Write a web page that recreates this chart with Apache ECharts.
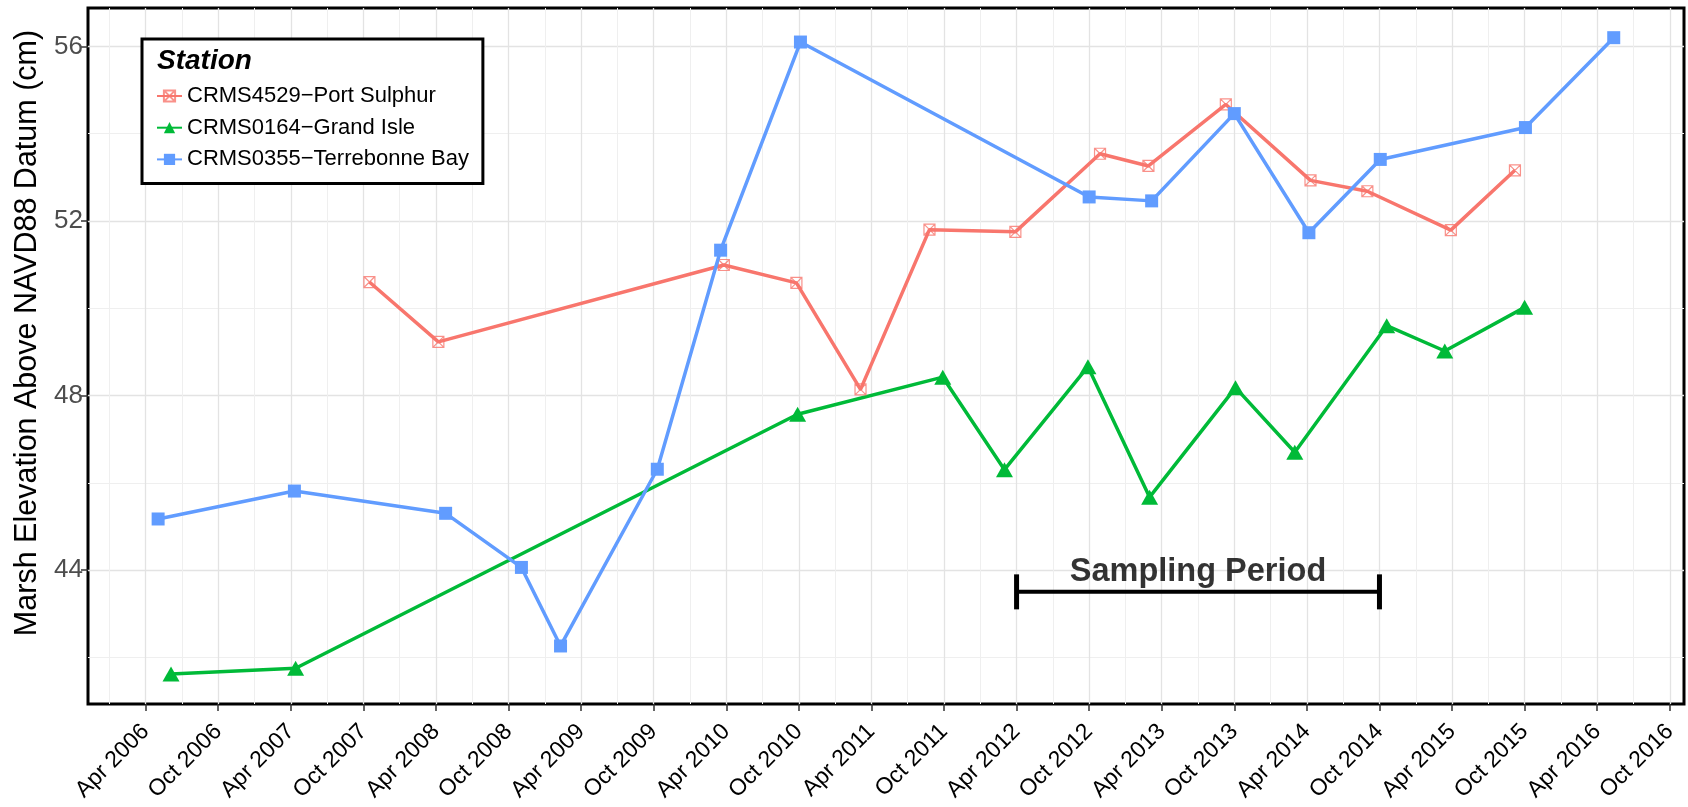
<!DOCTYPE html>
<html>
<head>
<meta charset="utf-8">
<script src="https://cdn.jsdelivr.net/npm/echarts@6/dist/echarts.min.js"></script>
<style>
  html, body { margin: 0; padding: 0; background: #fff; }
  #chart { width: 1688px; height: 807px; }
</style>
</head>
<body>
<div id="chart"></div>
<script>
// Survey dates (YYYY-MM-DD) and marsh elevation (cm above NAVD88) for each CRMS station
const stationNames = ['CRMS4529\u2212Port Sulphur', 'CRMS0164\u2212Grand Isle', 'CRMS0355\u2212Terrebonne Bay'];

const portSulphurDates = ['2007-10-16', '2008-04-07', '2010-03-25', '2010-09-25', '2011-03-04', '2011-08-25',
  '2012-03-28', '2012-10-28', '2013-02-28', '2013-09-10', '2014-04-10', '2014-09-01', '2015-03-28', '2015-09-07'];
const portSulphurValues = [50.60, 49.23, 50.99, 50.58, 48.14, 51.80, 51.75, 53.54, 53.26, 54.67, 52.93, 52.68, 51.79, 53.16];

const grandIsleDates = ['2006-06-04', '2007-04-13', '2010-09-28', '2011-09-28', '2012-03-01', '2012-09-28',
  '2013-03-01', '2013-10-04', '2014-03-01', '2014-10-19', '2015-03-13', '2015-10-01'];
const grandIsleValues = [41.62, 41.75, 47.57, 48.42, 46.30, 48.66, 45.67, 48.18, 46.70, 49.60, 49.02, 50.02];

const terrebonneDates = ['2006-05-02', '2007-04-10', '2008-04-25', '2008-11-03', '2009-02-10', '2009-10-10',
  '2010-03-17', '2010-10-05', '2012-10-01', '2013-03-06', '2013-10-01', '2014-04-06', '2014-10-03',
  '2015-10-03', '2016-05-12'];
const terrebonneValues = [45.17, 45.81, 45.30, 44.06, 42.26, 46.31, 51.33, 56.10, 52.55, 52.46, 54.46, 51.73, 53.41, 54.14, 56.20];

// Sampling period bracket
const samplingStart = '2012-04-01';
const samplingEnd = '2014-10-01';
const samplingLevel = 43.5;
const samplingText = 'Sampling Period';

// Axis breaks
const xTickLabels = ['Apr 2006', 'Oct 2006', 'Apr 2007', 'Oct 2007', 'Apr 2008', 'Oct 2008', 'Apr 2009', 'Oct 2009',
  'Apr 2010', 'Oct 2010', 'Apr 2011', 'Oct 2011', 'Apr 2012', 'Oct 2012', 'Apr 2013', 'Oct 2013',
  'Apr 2014', 'Oct 2014', 'Apr 2015', 'Oct 2015', 'Apr 2016', 'Oct 2016'];
const yTickLabels = [44, 48, 52, 56];
const yMinorBreaks = [42, 46, 50, 54];

const yAxisTitle = 'Marsh Elevation Above NAVD88 Datum (cm)';
const legendTitle = 'Station';

// ---- helpers ----
const MONTHS = { Jan: 0, Feb: 1, Mar: 2, Apr: 3, May: 4, Jun: 5, Jul: 6, Aug: 7, Sep: 8, Oct: 9, Nov: 10, Dec: 11 };
function dateToYear(s) {
  const [y, m, d] = s.split('-').map(Number);
  return y + (m - 1) / 12 + ((d || 1) - 1) / 360;
}
function labelToYear(lbl) {
  const [mon, yr] = lbl.split(' ');
  return Number(yr) + MONTHS[mon] / 12;
}
function pairs(dates, values) {
  return dates.map((d, i) => [dateToYear(d), values[i]]);
}

const xTickValues = xTickLabels.map(labelToYear);
const xMinorValues = xTickValues.map(v => v - 0.25);

const X_MIN = 2005.853, X_MAX = 2016.848;
const Y_MIN = 40.93, Y_MAX = 56.88;

const FONT = '"Liberation Sans", Arial, Helvetica, sans-serif';
const RED = '#F8766D', GREEN = '#00BA38', BLUE = '#619CFF';

// square with a cross inside (open marker)
const squareCross = 'path://M0,0L10,0L10,10L0,10Z M0,0L10,10 M10,0L0,10';

const chart = echarts.init(document.getElementById('chart'), null, { renderer: 'canvas' });

const sampleA = dateToYear(samplingStart), sampleB = dateToYear(samplingEnd);

chart.setOption({
  animation: false,
  backgroundColor: '#fff',
  textStyle: { fontFamily: FONT },
  grid: {
    left: 88, right: 4, top: 8, bottom: 103,
    show: true, borderColor: '#000', borderWidth: 3, backgroundColor: '#fff'
  },
  title: {
    text: legendTitle,
    left: 152, top: 42,
    textStyle: { fontFamily: FONT, fontSize: 28, fontStyle: 'italic', fontWeight: 'bold', color: '#000' },
    z: 10
  },
  legend: {
    orient: 'vertical',
    left: 142, top: 39,
    padding: [45, 14, 12, 14],
    itemWidth: 25, itemHeight: 14, itemGap: 7.7,
    borderColor: '#000', borderWidth: 3, backgroundColor: '#fff',
    textStyle: { fontFamily: FONT, fontSize: 22, color: '#000', lineHeight: 24 },
    data: stationNames,
    selectedMode: false,
    z: 5
  },
  xAxis: [
    {
      type: 'value', min: X_MIN, max: X_MAX,
      axisLine: { show: false },
      axisTick: { show: true, length: 7, customValues: xTickValues, lineStyle: { color: '#333', width: 1.5 } },
      axisLabel: {
        customValues: xTickValues,
        rotate: 45, margin: 24, fontSize: 23, color: '#000', fontFamily: FONT,
        formatter: v => {
          const i = xTickValues.findIndex(t => Math.abs(t - v) < 1e-6);
          return i >= 0 ? xTickLabels[i] : '';
        }
      },
      splitLine: { show: true, lineStyle: { color: '#E3E3E3', width: 1.3 } }
    },
    {
      type: 'value', min: X_MIN, max: X_MAX, position: 'bottom',
      axisLine: { show: false },
      axisTick: { show: false, customValues: xMinorValues },
      axisLabel: { show: false, customValues: xMinorValues },
      splitLine: { show: true, lineStyle: { color: '#EFEFEF', width: 1 } }
    }
  ],
  yAxis: [
    {
      type: 'value', min: Y_MIN, max: Y_MAX,
      name: yAxisTitle, nameLocation: 'middle', nameRotate: 90, nameGap: 45,
      nameTextStyle: { fontFamily: FONT, fontSize: 30.5, color: '#000', padding: [0, 0, 0, 46] },
      axisLine: { show: false },
      axisTick: { show: true, length: 7, customValues: yTickLabels, lineStyle: { color: '#333', width: 1.5 } },
      axisLabel: { customValues: yTickLabels, margin: 5, fontSize: 26, color: '#4D4D4D', fontFamily: FONT },
      splitLine: { show: true, lineStyle: { color: '#E3E3E3', width: 1.3 } }
    },
    {
      type: 'value', min: Y_MIN, max: Y_MAX, position: 'left',
      axisLine: { show: false },
      axisTick: { show: false, customValues: yMinorBreaks },
      axisLabel: { show: false, customValues: yMinorBreaks },
      splitLine: { show: true, lineStyle: { color: '#EFEFEF', width: 1 } }
    }
  ],
  series: [
    {
      name: stationNames[0], type: 'line',
      data: pairs(portSulphurDates, portSulphurValues),
      symbol: squareCross, symbolSize: 11,
      lineStyle: { color: RED, width: 3.5 },
      itemStyle: { color: 'rgba(255,255,255,0)', borderColor: 'rgba(248,118,109,0.8)', borderWidth: 1.2 },
      z: 3
    },
    {
      name: stationNames[1], type: 'line',
      data: pairs(grandIsleDates, grandIsleValues),
      symbol: 'triangle', symbolSize: [17, 15],
      lineStyle: { color: GREEN, width: 3.5 },
      itemStyle: { color: GREEN },
      z: 3
    },
    {
      name: stationNames[2], type: 'line',
      data: pairs(terrebonneDates, terrebonneValues),
      symbol: 'rect', symbolSize: 13,
      lineStyle: { color: BLUE, width: 3.5 },
      itemStyle: { color: BLUE },
      z: 4
    },
    {
      // horizontal bracket for the sampling window
      type: 'line',
      data: [[sampleA, samplingLevel], [sampleB, samplingLevel]],
      symbol: 'rect', symbolSize: [5, 35],
      lineStyle: { color: '#000', width: 4 },
      itemStyle: { color: '#000' },
      z: 5
    },
    {
      type: 'scatter',
      data: [[(sampleA + sampleB) / 2, samplingLevel]],
      symbolSize: 0,
      itemStyle: { color: '#000' },
      label: {
        show: true, position: 'top', distance: 3,
        formatter: samplingText,
        fontFamily: FONT, fontSize: 32.5, fontWeight: 'bold', color: '#000',
        textBorderWidth: 0
      },
      z: 5
    }
  ]
});
</script>
</body>
</html>
